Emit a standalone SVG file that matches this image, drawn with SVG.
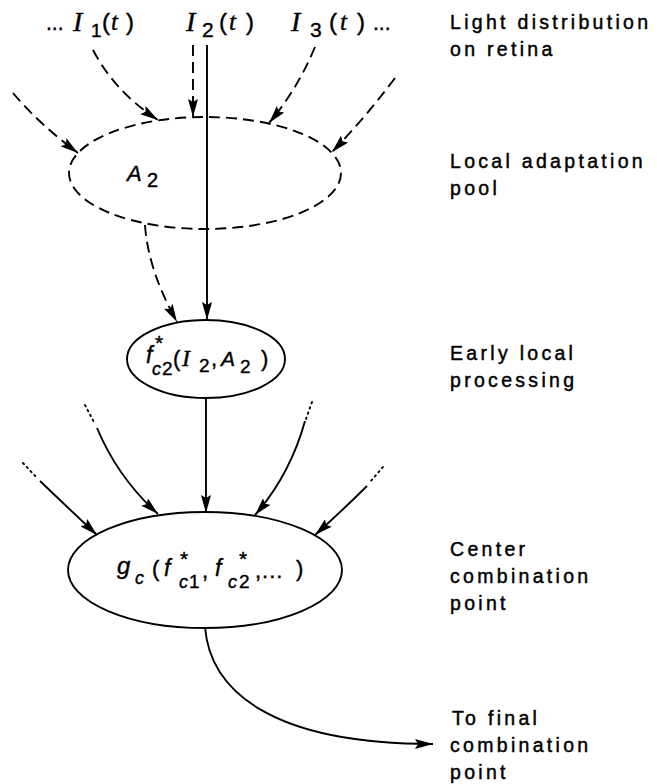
<svg xmlns="http://www.w3.org/2000/svg" width="657" height="784" viewBox="0 0 657 784">
<style>
.bg{fill:#fff}
.ln{fill:none;stroke:#000;stroke-width:1.9}
.da{stroke-dasharray:11 6}
.dot{fill:none;stroke:#000;stroke-width:1.9;stroke-dasharray:1.5 4;stroke-linecap:round}
.node{fill:none;stroke:#000;stroke-width:1.9}
.lbl{font-family:"Liberation Sans",Arial,sans-serif;font-size:19.5px;letter-spacing:3.3px;fill:#000;stroke:#000;stroke-width:0.45}
.sans{font-family:"Liberation Sans",Arial,sans-serif;fill:#000;stroke:#000;stroke-width:0.4}
.ser{font-family:"Liberation Serif","Times New Roman",serif;font-style:italic;fill:#000;stroke:#000;stroke-width:0.4}
.it{font-family:"Liberation Sans",Arial,sans-serif;font-style:italic;fill:#000;stroke:#000;stroke-width:0.4}
</style>
<defs>
<marker id="ah" markerUnits="userSpaceOnUse" markerWidth="19" markerHeight="10" refX="18" refY="5" orient="auto">
<path d="M0,0 L18,5 L0,10 L3,5 z" fill="#000"/>
</marker>
</defs>
<rect class="bg" width="657" height="784"/>

<g id="inputs">
<text class="sans" x="46" y="30" font-size="21">...</text>
<text class="ser" x="73" y="31" font-size="28">I</text>
<text class="sans" x="91" y="37" font-size="19">1</text>
<text class="sans" x="102" y="30" font-size="24">(</text>
<text class="ser" x="111" y="30" font-size="25">t</text>
<text class="sans" x="126" y="30" font-size="24">)</text>

<text class="ser" x="186" y="31" font-size="28">I</text>
<text class="sans" x="202" y="37" font-size="21">2</text>
<text class="sans" x="219" y="30" font-size="24">(</text>
<text class="ser" x="229" y="30" font-size="25">t</text>
<text class="sans" x="246" y="30" font-size="24">)</text>

<text class="ser" x="291" y="31" font-size="28">I</text>
<text class="sans" x="310" y="37" font-size="21">3</text>
<text class="sans" x="329" y="30" font-size="24">(</text>
<text class="ser" x="340" y="30" font-size="25">t</text>
<text class="sans" x="357" y="30" font-size="24">)</text>
<text class="sans" x="373" y="30" font-size="21">...</text>
</g>

<g id="node-A2">
<ellipse class="node da" cx="205" cy="173" rx="136" ry="56"/>
<text class="it" x="127" y="181" font-size="22">A</text>
<text class="sans" x="147" y="187" font-size="20">2</text>
</g>

<g id="node-f">
<ellipse class="node" cx="206" cy="359" rx="79" ry="39"/>
<text class="it" x="146" y="363" font-size="23">f</text>
<text class="sans" x="155" y="350" font-size="21">*</text>
<text class="it" x="152" y="375" font-size="18">c</text>
<text class="sans" x="162" y="375" font-size="19">2</text>
<text class="sans" x="173" y="366" font-size="22">(</text>
<text class="ser" x="182" y="366" font-size="24">I</text>
<text class="sans" x="199" y="372" font-size="19">2</text>
<text class="sans" x="211" y="366" font-size="22">,</text>
<text class="it" x="221" y="366" font-size="21">A</text>
<text class="sans" x="240" y="373" font-size="19">2</text>
<text class="sans" x="261" y="366" font-size="22">)</text>
</g>

<g id="node-g">
<ellipse class="node" cx="205" cy="570" rx="137" ry="58"/>
<text class="it" x="117" y="574" font-size="24">g</text>
<text class="it" x="135" y="584" font-size="18">c</text>
<text class="sans" x="152" y="576" font-size="22">(</text>
<text class="it" x="164" y="576" font-size="23">f</text>
<text class="sans" x="180" y="566" font-size="21">*</text>
<text class="it" x="179" y="588" font-size="18">c</text>
<text class="sans" x="189" y="588" font-size="19">1</text>
<text class="sans" x="202" y="578" font-size="22">,</text>
<text class="it" x="215" y="576" font-size="23">f</text>
<text class="sans" x="239" y="566" font-size="21">*</text>
<text class="it" x="228" y="588" font-size="18">c</text>
<text class="sans" x="239" y="588" font-size="19">2</text>
<text class="sans" x="255" y="578" font-size="22" letter-spacing="1">,...</text>
<text class="sans" x="296" y="576" font-size="22">)</text>
</g>

<g id="connectors">
<path class="ln da" d="M13,93 Q40,125 78,153" marker-end="url(#ah)"/>
<path class="ln da" d="M93,50 Q115,92 158,120" marker-end="url(#ah)"/>
<path class="ln da" d="M193,45 L193,117" marker-end="url(#ah)"/>
<path class="ln da" d="M315,47 Q297,90 269,123" marker-end="url(#ah)"/>
<path class="ln da" d="M395,78 Q365,118 332,152" marker-end="url(#ah)"/>
<path class="ln" d="M207,45 L207,320" marker-end="url(#ah)"/>
<path class="ln da" d="M145,225 Q148,270 177,322" marker-end="url(#ah)"/>
<path class="ln" d="M206,398 L206,513" marker-end="url(#ah)"/>
<path class="dot" d="M23,463 L38,479"/>
<path class="ln" d="M40,481 Q65,505 97,535" marker-end="url(#ah)"/>
<path class="dot" d="M85,405 L95,424"/>
<path class="ln" d="M97,428 Q118,478 158,514" marker-end="url(#ah)"/>
<path class="dot" d="M312,402 L306,419"/>
<path class="ln" d="M305,421 Q290,475 255,515" marker-end="url(#ah)"/>
<path class="dot" d="M383,467 L370,482"/>
<path class="ln" d="M367,486 Q345,508 315,535" marker-end="url(#ah)"/>
<path class="ln" d="M205,627 C210,690 270,744 433,744" marker-end="url(#ah)"/>
</g>

<g id="labels">
<text class="lbl" x="450" y="29">Light distribution</text>
<text class="lbl" x="450" y="56">on retina</text>
<text class="lbl" x="450" y="168">Local adaptation</text>
<text class="lbl" x="450" y="195">pool</text>
<text class="lbl" x="450" y="360">Early local</text>
<text class="lbl" x="450" y="387">processing</text>
<text class="lbl" x="450" y="556">Center</text>
<text class="lbl" x="450" y="583">combination</text>
<text class="lbl" x="450" y="610">point</text>
<text class="lbl" x="452" y="725">To final</text>
<text class="lbl" x="450" y="752">combination</text>
<text class="lbl" x="450" y="779">point</text>
</g>
</svg>
